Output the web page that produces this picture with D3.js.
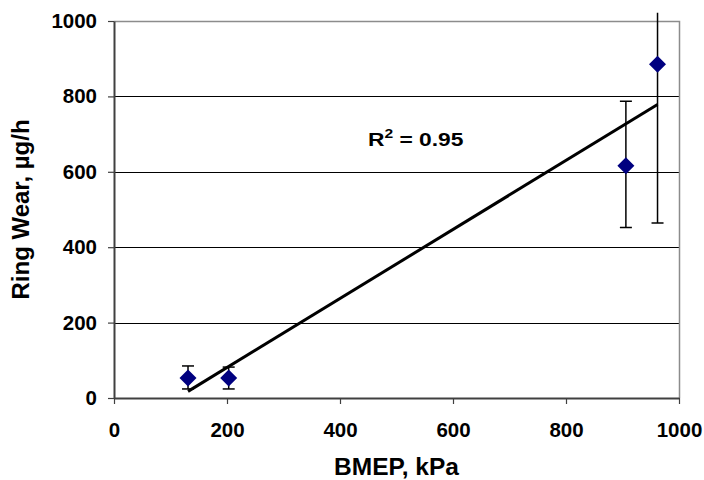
<!DOCTYPE html>
<html><head><meta charset="utf-8">
<script src="https://cdn.jsdelivr.net/npm/d3@7"></script>
<style>body{margin:0;background:#fff}svg{display:block}text{font-family:"Liberation Sans",Arial,sans-serif;font-weight:bold}</style>
</head><body><svg id="c" width="704" height="480"></svg>
<script>
const bmep = [131, 203, 906, 962];
const wear = [53, 53, 616, 885];
const errLow = [24, 24, 452, 464];
const errHigh = [85, 82, 787, 1306];
const xTicks = [0, 200, 400, 600, 800, 1000];
const yTicks = [0, 200, 400, 600, 800, 1000];
const r2Label = "0.95";

const svg = d3.select("#c");
const x = d3.scaleLinear().domain([0, 1000]).range([114, 679]);
const y = d3.scaleLinear().domain([0, 1000]).range([398, 21]);

// gridlines
svg.append("g").selectAll("line").data(yTicks.filter(d => d > 0 && d < 1000)).join("line")
  .attr("x1", x(0)).attr("x2", x(1000))
  .attr("y1", d => Math.round(y(d)) + 0.5).attr("y2", d => Math.round(y(d)) + 0.5)
  .attr("stroke", "#000").attr("stroke-width", 1);
// plot border top/right
svg.append("path")
  .attr("d", `M${x(0)},${Math.round(y(1000))+0.5}H${Math.round(x(1000))+0.5}V${y(0)}`)
  .attr("fill", "none").attr("stroke", "#8c8c8c").attr("stroke-width", 1.5);

// axes
const fmt = d3.format("d");
const xAxis = svg.append("g").attr("transform", `translate(0,${y(0)})`)
  .call(d3.axisBottom(x).tickValues(xTicks).tickFormat(fmt).tickSize(6).tickPadding(18.5).tickSizeOuter(0));
const yAxis = svg.append("g").attr("transform", `translate(${x(0)},0)`)
  .call(d3.axisLeft(y).tickValues(yTicks).tickFormat(fmt).tickSize(6).tickPadding(11).tickSizeOuter(0));
[xAxis, yAxis].forEach(g => {
  g.select(".domain").attr("stroke", "#404040").attr("stroke-width", 2);
  g.selectAll(".tick line").attr("stroke", "#404040").attr("stroke-width", 1.2);
  g.selectAll("text").attr("font-size", 20.5).attr("fill", "#000")
    .attr("font-family", '"Liberation Sans",Arial,sans-serif').attr("font-weight", "bold");
});

// clip for error bars
svg.append("clipPath").attr("id", "clip").append("rect")
  .attr("x", 0).attr("y", y(1022)).attr("width", 704).attr("height", 480);

// trend line (least squares)
const mx = d3.mean(bmep), my = d3.mean(wear);
const slope = d3.sum(bmep.map((v, i) => (v - mx) * (wear[i] - my))) / d3.sum(bmep.map(v => (v - mx) ** 2));
const icpt = my - slope * mx;
const xmin = d3.min(bmep), xmax = d3.max(bmep);
svg.append("line")
  .attr("x1", x(xmin)).attr("y1", y(icpt + slope * xmin))
  .attr("x2", x(xmax)).attr("y2", y(icpt + slope * xmax))
  .attr("stroke", "#000").attr("stroke-width", 3);

// error bars
const eb = svg.append("g").attr("clip-path", "url(#clip)").attr("stroke", "#000").attr("stroke-width", 1.5);
bmep.forEach((b, i) => {
  eb.append("line").attr("x1", x(b)).attr("x2", x(b)).attr("y1", y(errLow[i])).attr("y2", y(errHigh[i]));
  [errLow[i], errHigh[i]].forEach(v => {
    eb.append("line").attr("x1", x(b) - 6).attr("x2", x(b) + 6).attr("y1", y(v)).attr("y2", y(v));
  });
});

// markers
svg.append("g").selectAll("path").data(bmep).join("path")
  .attr("transform", (d, i) => `translate(${x(d)},${y(wear[i])})`)
  .attr("d", "M0,-8.5L8.5,0L0,8.5L-8.5,0Z")
  .attr("fill", "#000080");

// R² label
const t = svg.append("text").attr("transform", "translate(368,146) scale(1.2,1)")
  .attr("font-size", 19).attr("fill", "#000");
t.append("tspan").text("R");
t.append("tspan").attr("font-size", 13).attr("dy", -8).text("2");
t.append("tspan").attr("dy", 8).text(" = " + r2Label);

// axis titles
svg.append("text").attr("x", (x(0) + x(1000)) / 2).attr("y", 474.5).attr("text-anchor", "middle")
  .attr("font-size", 24.5).attr("fill", "#000").text("BMEP, kPa");
svg.append("text").attr("transform", `translate(29,${(y(0) + y(1000)) / 2}) rotate(-90)`)
  .attr("text-anchor", "middle").attr("font-size", 24).attr("fill", "#000").text("Ring Wear, µg/h");
</script></body></html>
